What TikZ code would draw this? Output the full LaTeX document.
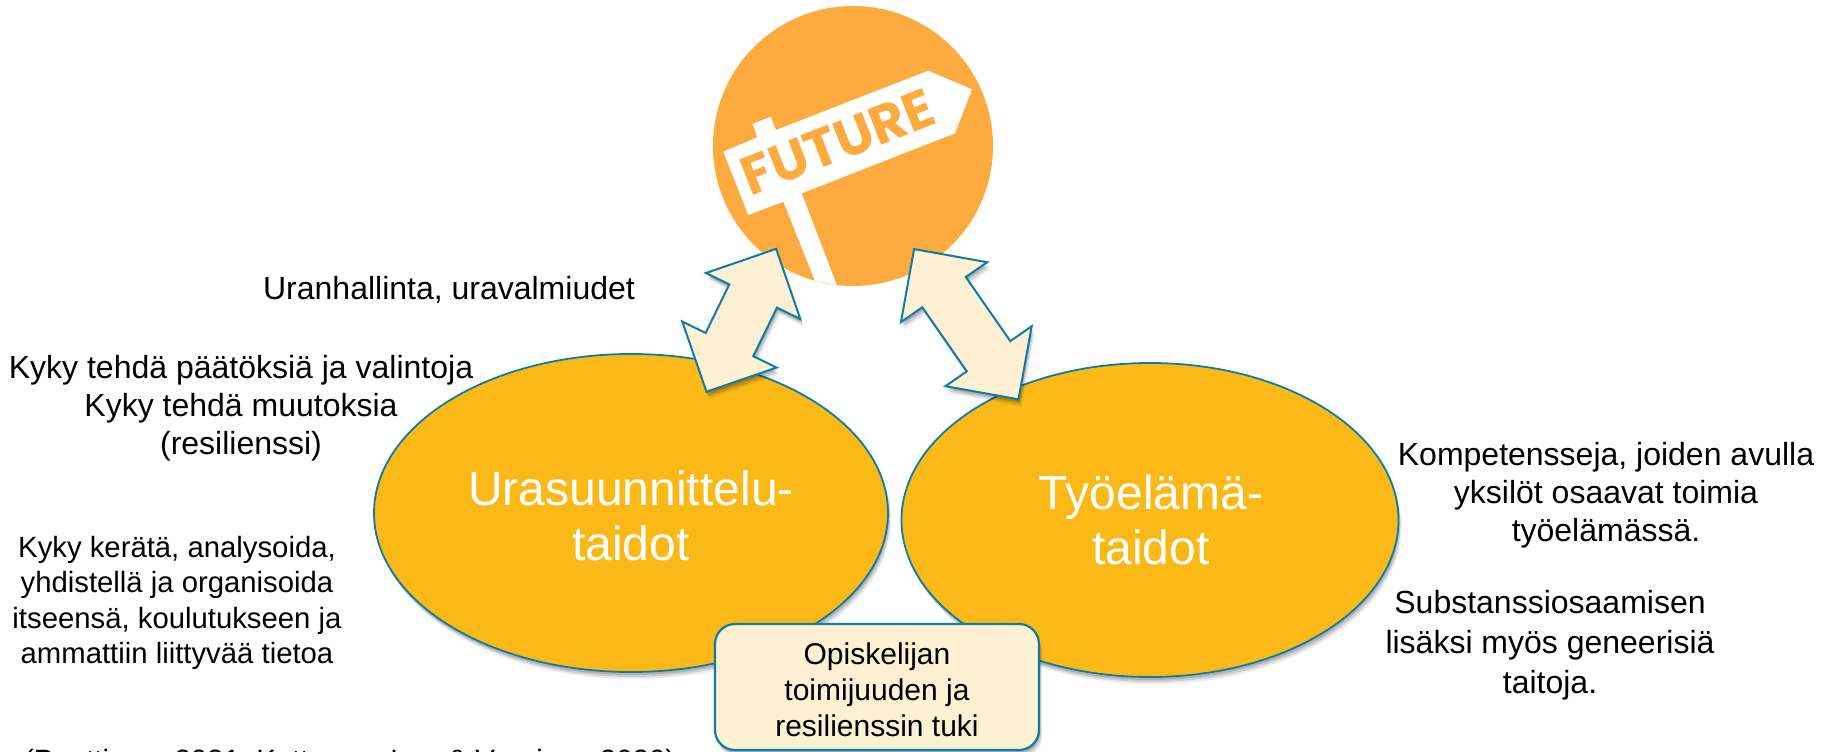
\documentclass[tikz,border=0pt]{standalone}
\usepackage{fontspec}
\setmainfont{Liberation Sans}
\newfontfamily\signfont{Poppins}
\usetikzlibrary{shapes.geometric,shapes.arrows,shadows}
\definecolor{skill_fill}{HTML}{FBB917}
\definecolor{line_blue}{HTML}{0F7CA6}
\definecolor{cream}{HTML}{FDF0D3}
\definecolor{sign_orange}{HTML}{FDAB3F}
\begin{document}
\begin{tikzpicture}[x=1pt,y=-1pt,
      soft_shadow/.style={
         drop shadow={shadow xshift=1pt,shadow yshift=-3pt,opacity=.14,fill=black},
         drop shadow={shadow xshift=2pt,shadow yshift=-5pt,opacity=.12,fill=black},
         drop shadow={shadow xshift=3pt,shadow yshift=-7pt,opacity=.08,fill=black}},
      skill_ellipse/.style={
         ellipse,
         draw=line_blue,
         fill=skill_fill,
         line width=1.8pt,
         inner sep=0pt,
         soft_shadow},
      skill_text/.style={
         align=center,
         text=white,
         inner sep=0pt,
         font=\fontsize{48}{55}\selectfont},
      arrow_block/.style={
         double arrow,
         draw=line_blue,
         fill=cream,
         line width=2pt,
         inner sep=0pt,
         text height=51pt,
         text depth=0pt,
         text width=0pt,
         minimum width=103pt,
         double arrow head extend=26pt,
         double arrow tip angle=90,
         soft_shadow},
      txt_big/.style={align=center,font=\fontsize{32}{40}\selectfont},
      txt_mid/.style={align=center,font=\fontsize{32}{38}\selectfont},
      txt_small/.style={align=center,font=\fontsize{29.3}{35.5}\selectfont}
]
      \clip (0,0) rectangle (1831,752);

      %future sign
      \node[circle,fill=sign_orange,inner sep=0pt,minimum size=280pt] (future) at (853,146) {};
      \fill[white] (723.3,151.7) -- (757.3,137.3) -- (752.7,124) -- (770.7,116.7) -- (776,130)
         -- (928.3,70.7) -- (972,89.3) -- (955,133.3) -- (801.7,193.3) -- (836.7,285)
         -- (815,281) -- (783.3,201.7) -- (748.3,215) -- cycle;
      \node[rotate=21.4,text=sign_orange,inner sep=0pt,font=\signfont\bfseries\fontsize{54}{54}\selectfont] (word) at (838,142) {FUTURE};

      %skills
      \node[skill_ellipse,minimum width=514pt,minimum height=318pt] (career) at (631,513) {};
      \node[skill_ellipse,minimum width=497pt,minimum height=314pt] (work) at (1150,520) {};
      \node[skill_text] (career_txt) at ([yshift=-3pt]career.center) {Urasuunnittelu-\\taidot};
      \node[skill_text] (work_txt) at ([xshift=1pt]work.center) {Työelämä-\\taidot};

      \node[arrow_block,minimum height=159pt,rotate=64] (arrow_l) at (741.3,320.3) {};
      \node[arrow_block,minimum height=183pt,rotate=-55.2] (arrow_r) at (966.3,324.2) {};

      \node[draw=line_blue,fill=cream,line width=2.2pt,rounded corners=20pt,minimum width=324pt,minimum height=126pt,
         inner sep=0pt,soft_shadow] (support) at (877,687) {};
      \node[align=center,inner sep=0pt,font=\fontsize{30}{36}\selectfont] (support_txt) at ([yshift=-3pt]support.center)
         {Opiskelijan\\toimijuuden ja\\resilienssin tuki};

      %texts
      \foreach \i/\x/\y/\st/\txt in {
         t_a/449/290/txt_big/{Uranhallinta, uravalmiudet},
         t_b/241/408/txt_mid/{Kyky tehdä päätöksiä ja valintoja\\Kyky tehdä muutoksia\\(resilienssi)},
         t_c/177/603/txt_small/{Kyky kerätä, analysoida,\\yhdistellä ja organisoida\\itseensä, koulutukseen ja\\ammattiin liittyvää tietoa},
         t_d/1606/495/txt_mid/{Kompetensseja, joiden avulla\\yksilöt osaavat toimia\\työelämässä.},
         t_e/1550/645/txt_big/{Substanssiosaamisen\\lisäksi myös geneerisiä\\taitoja.}}
         \node[\st,inner sep=0pt] (\i) at (\x,\y) {\txt};

      \node[inner sep=0pt,anchor=base west,font=\fontsize{29.4}{40}\selectfont] (source) at (24,770) {(Penttinen, 2021; Kettunen, Lee \& Vuorinen 2020)};
\end{tikzpicture}
\end{document}
